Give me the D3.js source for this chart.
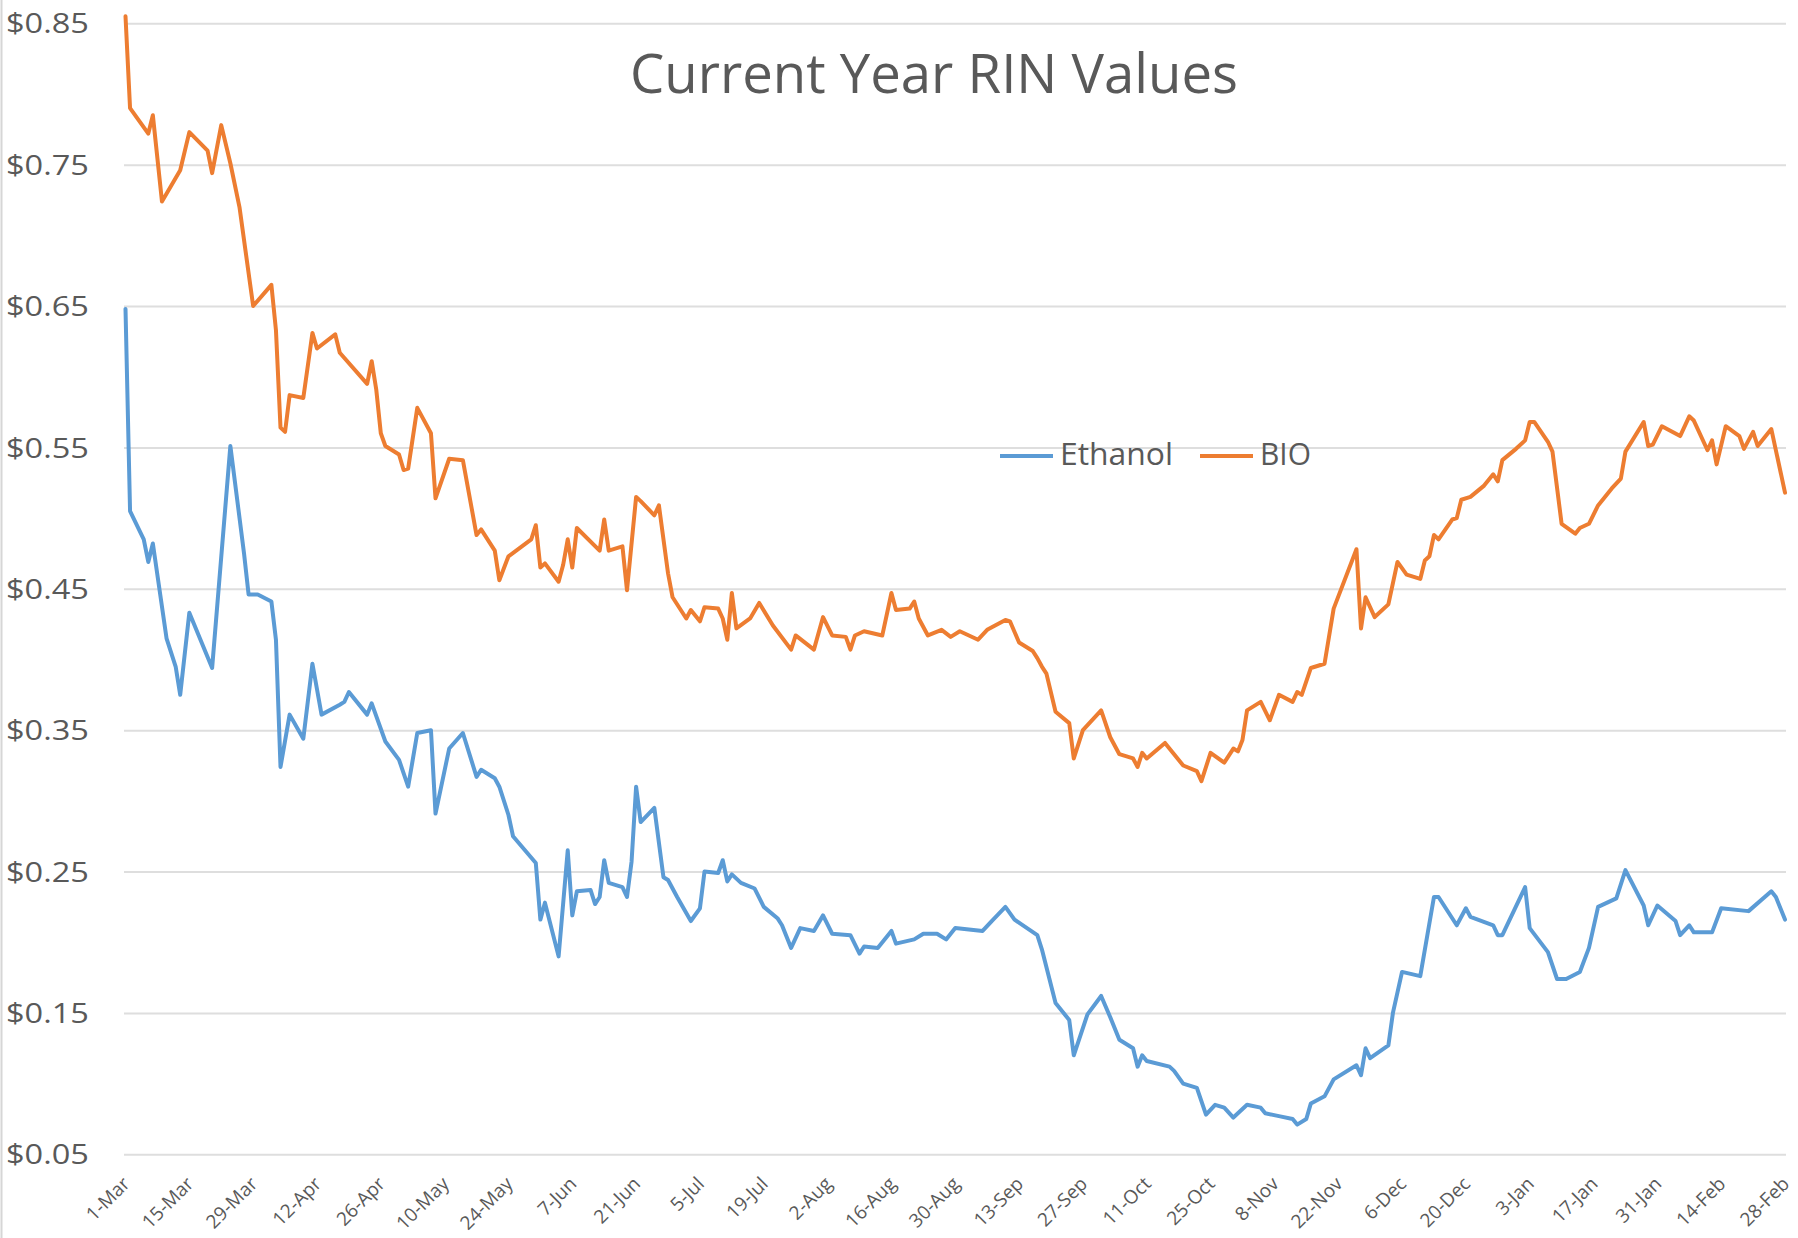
<!DOCTYPE html>
<html lang="en">
<head>
<meta charset="utf-8">
<title>Current Year RIN Values</title>
<script src="https://cdn.jsdelivr.net/npm/d3@7"></script>
<style>
  html, body { margin: 0; padding: 0; background: #fff; }
  text { font-family: "Open Sans", sans-serif; fill: #595959; }
  .grid line { stroke: #dedede; stroke-width: 2px; }
  .series { fill: none; stroke-width: 4px; stroke-linejoin: round; stroke-linecap: round; }
</style>
</head>
<body>
<div id="chart"></div>
<script>
// days counted from 1-Mar, values in $
var ethanolDays = [0,1,4,5,6,9,11,12,14,19,23,26,27,29,32,33,34,36,39,41,43,47,48,49,53,54,57,60,62,64,67,68,71,74,77,78,81,82,84,85,90,91,92,95,97,98,99,102,103,104,105,106,109,110,111,112,113,116,118,119,121,124,126,127,130,131,132,133,135,138,140,143,144,146,148,151,153,155,159,161,162,165,168,169,173,175,178,180,182,188,190,193,195,200,201,204,207,208,211,214,216,218,221,222,223,224,229,230,232,235,237,239,241,243,246,249,250,253,256,257,259,260,263,265,270,271,272,273,277,278,280,284,287,288,292,294,295,300,301,302,307,308,312,314,316,319,321,323,327,329,333,334,336,340,341,343,344,348,350,356,361,362,364];
var ethanolValues = [0.648,0.505,0.485,0.469,0.482,0.415,0.395,0.375,0.433,0.394,0.551,0.475,0.446,0.446,0.441,0.414,0.324,0.361,0.344,0.397,0.361,0.368,0.370,0.377,0.361,0.369,0.342,0.329,0.310,0.348,0.350,0.291,0.337,0.348,0.317,0.322,0.316,0.310,0.290,0.275,0.256,0.216,0.228,0.190,0.265,0.219,0.236,0.237,0.227,0.232,0.258,0.242,0.239,0.232,0.257,0.310,0.285,0.295,0.246,0.244,0.232,0.215,0.224,0.250,0.249,0.258,0.243,0.248,0.242,0.238,0.225,0.217,0.212,0.196,0.210,0.208,0.219,0.206,0.205,0.192,0.197,0.196,0.208,0.199,0.202,0.206,0.206,0.202,0.210,0.208,0.215,0.225,0.216,0.205,0.195,0.157,0.145,0.120,0.149,0.162,0.147,0.131,0.125,0.112,0.120,0.116,0.112,0.109,0.100,0.097,0.078,0.085,0.083,0.076,0.085,0.083,0.079,0.077,0.075,0.071,0.075,0.086,0.091,0.103,0.113,0.106,0.125,0.118,0.127,0.150,0.179,0.176,0.232,0.232,0.212,0.224,0.218,0.212,0.205,0.205,0.239,0.210,0.193,0.174,0.174,0.179,0.196,0.225,0.231,0.251,0.226,0.212,0.226,0.215,0.205,0.212,0.207,0.207,0.224,0.222,0.236,0.232,0.216];

var bioDays = [0,1,5,6,8,12,14,18,19,21,23,25,28,32,33,34,35,36,39,41,42,46,47,53,54,55,56,57,60,61,62,64,67,68,71,74,77,78,81,82,84,89,90,91,92,95,96,97,98,99,104,105,106,109,110,112,113,116,117,119,120,123,124,126,127,130,131,132,133,134,137,139,142,146,147,151,153,155,158,159,160,162,166,168,169,172,173,174,176,179,181,183,187,189,193,194,196,199,200,201,202,204,207,208,210,214,216,218,221,222,223,224,228,230,232,235,236,238,241,243,244,245,246,249,251,253,256,257,258,260,263,265,270,271,272,274,277,279,281,284,285,286,287,288,291,292,293,295,298,300,301,302,305,307,308,309,312,313,315,318,319,321,323,326,328,329,333,334,335,337,341,343,344,347,348,349,351,354,355,357,358,361,364];
var bioValues = [0.855,0.790,0.772,0.785,0.724,0.746,0.773,0.760,0.744,0.778,0.751,0.720,0.650,0.665,0.633,0.564,0.561,0.587,0.585,0.631,0.620,0.630,0.617,0.595,0.611,0.591,0.560,0.551,0.545,0.534,0.535,0.578,0.560,0.514,0.542,0.541,0.488,0.492,0.477,0.456,0.473,0.485,0.495,0.465,0.468,0.455,0.467,0.485,0.465,0.493,0.477,0.499,0.477,0.480,0.449,0.515,0.512,0.502,0.509,0.461,0.444,0.429,0.435,0.427,0.437,0.436,0.429,0.414,0.447,0.422,0.429,0.440,0.424,0.407,0.417,0.407,0.430,0.417,0.416,0.407,0.417,0.420,0.417,0.447,0.435,0.436,0.441,0.429,0.417,0.421,0.416,0.420,0.414,0.421,0.428,0.427,0.412,0.406,0.401,0.395,0.390,0.363,0.355,0.330,0.350,0.364,0.345,0.333,0.330,0.324,0.334,0.330,0.341,0.333,0.325,0.321,0.314,0.334,0.327,0.337,0.335,0.343,0.364,0.370,0.357,0.375,0.370,0.377,0.375,0.394,0.397,0.436,0.478,0.422,0.444,0.430,0.439,0.469,0.460,0.457,0.470,0.473,0.488,0.485,0.499,0.500,0.513,0.515,0.523,0.531,0.526,0.541,0.549,0.555,0.568,0.568,0.554,0.547,0.496,0.489,0.493,0.496,0.509,0.521,0.528,0.547,0.568,0.551,0.552,0.565,0.558,0.572,0.569,0.548,0.555,0.538,0.565,0.558,0.549,0.561,0.551,0.563,0.518];

var seriesNames = ["Ethanol", "BIO"];
var seriesColors = ["#5b9bd5", "#ed7d31"];
var yTicks = [0.05, 0.15, 0.25, 0.35, 0.45, 0.55, 0.65, 0.75, 0.85];
var tickStepDays = 14;

var width = 1798,
    height = 1238;

var start = new Date(2018, 2, 1),
    end = d3.timeDay.offset(start, 364);

var gridLeft = 124, gridRight = 1786;

var svg = d3.select("#chart")
    .append("svg")
    .attr("width", width)
    .attr("height", height);

svg.append("rect").attr("width", width).attr("height", height).attr("fill", "#fff");

var x = d3.scaleTime().domain([start, end]).range([125.5, 1785]);
var y = d3.scaleLinear().domain([0.05, 0.85]).range([1154.3, 23.3]);

// left border of the chart picture
svg.append("line")
    .attr("x1", 1.5).attr("x2", 1.5)
    .attr("y1", 0).attr("y2", height)
    .attr("stroke", "#d6d6d6").attr("stroke-width", 2);

// y axis with gridlines
var yAxis = svg.append("g")
    .attr("class", "grid")
    .attr("transform", "translate(" + gridRight + ",0)")
    .call(d3.axisLeft(y)
        .tickValues(yTicks)
        .tickSize(gridRight - gridLeft)
        .tickPadding(35)
        .tickFormat(d3.format("$.2f")));
yAxis.select(".domain").remove();
yAxis.selectAll("text")
    .attr("font-size", 27)
    .attr("dy", "0.355em")
    .attr("textLength", 83)
    .attr("lengthAdjust", "spacingAndGlyphs")
    .style("font-family", "'Open Sans', sans-serif")
    .attr("fill", "#595959");

// x axis, labels every two weeks
var xTicks = d3.timeDay.range(start, d3.timeDay.offset(end, 1), tickStepDays);
var xAxis = svg.append("g")
    .attr("transform", "translate(0,1185)")
    .call(d3.axisBottom(x)
        .tickValues(xTicks)
        .tickSize(0)
        .tickPadding(0)
        .tickFormat(d3.timeFormat("%-d-%b")));
xAxis.select(".domain").remove();
xAxis.selectAll("text")
    .attr("font-size", 19)
    .style("font-family", "'Open Sans', sans-serif")
    .attr("fill", "#595959")
    .attr("text-anchor", "end")
    .attr("x", 0).attr("y", 0).attr("dy", 0)
    .attr("transform", "translate(5,0) rotate(-45)");

function toPoints(days, values) {
  return days.map(function(d, i) {
    return { date: d3.timeDay.offset(start, d), value: values[i] };
  });
}

var series = [toPoints(ethanolDays, ethanolValues), toPoints(bioDays, bioValues)];

var line = d3.line()
    .x(function(d) { return x(d.date); })
    .y(function(d) { return y(d.value); });

svg.selectAll("path.series")
    .data(series)
  .enter().append("path")
    .attr("class", "series")
    .attr("stroke", function(d, i) { return seriesColors[i]; })
    .attr("d", line);

// title
svg.append("text")
    .attr("x", 630)
    .attr("y", 93)
    .attr("font-size", 55)
    .attr("textLength", 608)
    .attr("lengthAdjust", "spacingAndGlyphs")
    .text("Current Year RIN Values");

// legend
var legendX = [1000, 1200];
var legendTextWidth = [113, 51];
var legend = svg.selectAll("g.legend")
    .data(seriesNames)
  .enter().append("g")
    .attr("class", "legend")
    .attr("transform", function(d, i) { return "translate(" + legendX[i] + ",456)"; });

legend.append("line")
    .attr("x1", 0).attr("x2", 53)
    .attr("stroke", function(d, i) { return seriesColors[i]; })
    .attr("stroke-width", 4);

legend.append("text")
    .attr("x", 60)
    .attr("dy", "0.3em")
    .attr("font-size", 31)
    .attr("textLength", function(d, i) { return legendTextWidth[i]; })
    .attr("lengthAdjust", "spacingAndGlyphs")
    .text(function(d) { return d; });
</script>
</body>
</html>
